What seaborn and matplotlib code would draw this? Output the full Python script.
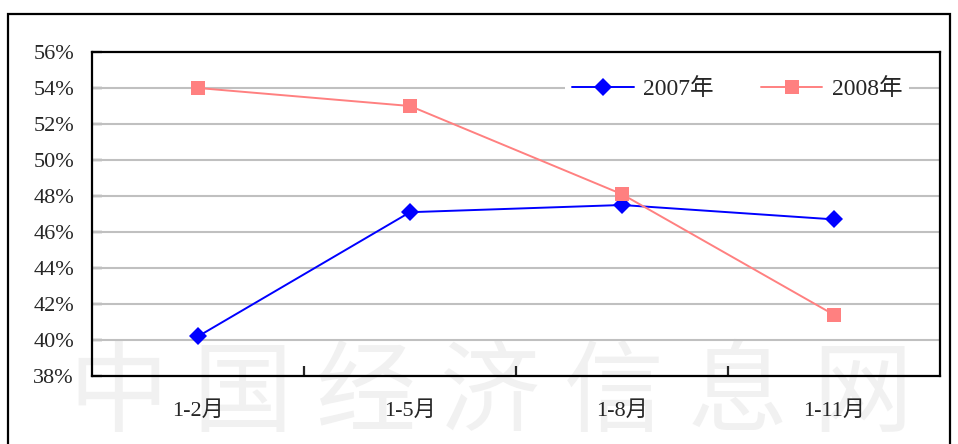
import pandas as pd
import seaborn as sns
import matplotlib.pyplot as plt
from matplotlib.patches import Rectangle
from matplotlib.ticker import FixedLocator

# data
periods = ['1-2月', '1-5月', '1-8月', '1-11月']
share_2007 = [40.2, 47.1, 47.5, 46.7]
share_2008 = [54.0, 53.0, 48.1, 41.4]
series_names = ['2007年', '2008年']
y_ticks = [38, 40, 42, 44, 46, 48, 50, 52, 54, 56]
watermark = '中国经济信息网'

df = pd.DataFrame({
    'period': periods * 2,
    'pos': list(range(len(periods))) * 2,
    'share': share_2007 + share_2008,
    'year': [series_names[0]] * len(periods) + [series_names[1]] * len(periods),
})

sns.set_style('white')
plt.rcParams['font.family'] = ['Liberation Serif', 'Noto Sans CJK SC', 'DejaVu Sans']

fig = plt.figure(figsize=(9.58, 4.44), dpi=100)
ax = fig.add_axes([92 / 958, 1 - 376 / 444, 848 / 958, 324 / 444])
ax.set_facecolor('none')
ax.set_zorder(2)

# outer frame
fig.patches.append(Rectangle((8 / 958, -0.1), 942 / 958, 1.1 - 14 / 444,
                             transform=fig.transFigure, fill=False,
                             edgecolor='black', linewidth=1.6, zorder=0))

# watermark, one character at a time, behind the axes
for i, ch in enumerate(watermark):
    fig.text((118 + 124 * i) / 958, 1 - 395 / 444, ch, ha='center', va='center',
             fontsize=72, color='#f1f1f1', family=['Noto Sans CJK SC'],
             fontweight='light', zorder=-1)

# grid lines
for v in y_ticks[1:-1]:
    ax.axhline(v, color='#c0c0c0', linewidth=1.5, zorder=1)

colors = {'2007年': '#0000ff', '2008年': '#ff8080'}
markers = {'2007年': 'D', '2008年': 's'}
sizes = {'2007年': 9, '2008年': 10}
for name, grp in df.groupby('year'):
    sns.lineplot(data=grp, x='pos', y='share', ax=ax, color=colors[name],
                 marker=markers[name], markersize=sizes[name], markeredgewidth=0,
                 linewidth=1.4, label=name, zorder=3)

ax.set_xlim(-0.5, len(periods) - 0.5)
ax.set_ylim(y_ticks[0], y_ticks[-1])
ax.set_yticks(y_ticks)
ax.set_yticklabels([f'{v}%' for v in y_ticks], fontsize=16)
ax.tick_params(axis='y', direction='in', length=7, width=1.6, pad=13, left=True)

# category boundaries as major ticks, labels on minor ticks
ax.xaxis.set_major_locator(FixedLocator([i + 0.5 for i in range(len(periods) - 1)]))
ax.set_xticklabels([])
ax.xaxis.set_minor_locator(FixedLocator(list(range(len(periods)))))
ax.set_xticklabels(periods, minor=True, fontsize=16)
ax.tick_params(axis='x', which='major', direction='in', length=7, width=1.6, bottom=True)
ax.tick_params(axis='x', which='minor', length=0, pad=18)

ax.set_xlabel('')
ax.set_ylabel('')
for s in ax.spines.values():
    s.set_visible(True)
    s.set_color('black')
    s.set_linewidth(1.6)

leg = ax.legend(loc='center', bbox_to_anchor=(0.761, 0.886), ncol=2, frameon=True,
                fontsize=17, handlelength=2.6, handletextpad=0.4, columnspacing=2.0,
                borderpad=0.3)
leg.get_frame().set_facecolor('white')
leg.get_frame().set_edgecolor('none')
leg.get_frame().set_alpha(1)

fig.savefig('out.png', dpi=100)
